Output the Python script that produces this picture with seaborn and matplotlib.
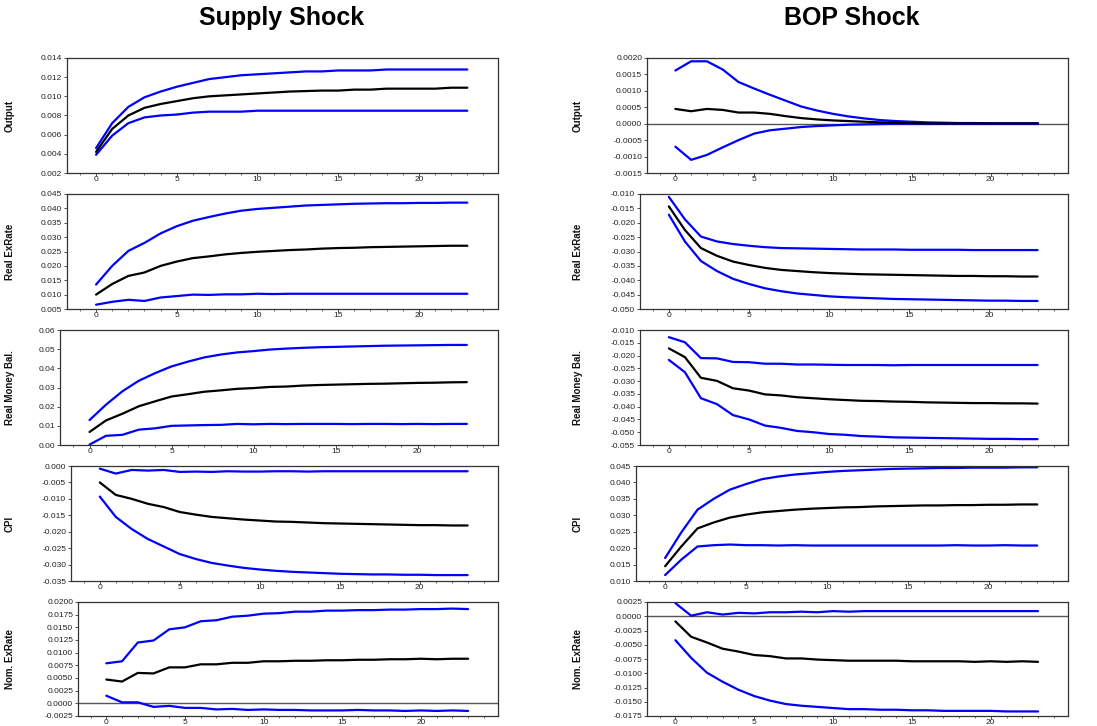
import matplotlib
matplotlib.use("Agg")
import matplotlib.pyplot as plt
import numpy as np
import seaborn as sns
from matplotlib.ticker import MultipleLocator, FuncFormatter

sns.set_style("white")
plt.rcParams['font.family'] = ['Liberation Sans', 'DejaVu Sans']
plt.rcParams['text.color'] = 'black'

# horizon steps
steps = list(range(24))

# ---- Supply shock ----
sup_output_mid = [0.0042, 0.0066, 0.0080, 0.0088, 0.0092, 0.0095, 0.0098, 0.0100, 0.0101, 0.0102, 0.0103, 0.0104,
                  0.0105, 0.01055, 0.0106, 0.0106, 0.0107, 0.0107, 0.0108, 0.0108, 0.0108, 0.0108, 0.0109, 0.0109]
sup_output_hi = [0.0046, 0.0072, 0.0089, 0.0099, 0.0105, 0.0110, 0.0114, 0.0118, 0.0120, 0.0122, 0.0123, 0.0124,
                 0.0125, 0.0126, 0.0126, 0.0127, 0.0127, 0.0127, 0.0128, 0.0128, 0.0128, 0.0128, 0.0128, 0.0128]
sup_output_lo = [0.0039, 0.0059, 0.0072, 0.0078, 0.0080, 0.0081, 0.0083, 0.0084, 0.0084, 0.0084, 0.0085, 0.0085,
                 0.0085, 0.0085, 0.0085, 0.0085, 0.0085, 0.0085, 0.0085, 0.0085, 0.0085, 0.0085, 0.0085, 0.0085]

sup_rer_hi = [0.0135, 0.0200, 0.0252, 0.0280, 0.0313, 0.0338, 0.0357, 0.0370, 0.0382, 0.0392, 0.0398, 0.0402,
              0.0406, 0.0410, 0.0412, 0.0414, 0.0416, 0.0417, 0.0418, 0.0418, 0.0419, 0.0419, 0.0420, 0.0420]
sup_rer_mid = [0.0100, 0.0137, 0.0165, 0.0177, 0.0200, 0.0215, 0.0227, 0.0233, 0.0240, 0.0245, 0.0249, 0.0252,
               0.0255, 0.0257, 0.0260, 0.0262, 0.0263, 0.0265, 0.0266, 0.0267, 0.0268, 0.0269, 0.0270, 0.0270]
sup_rer_lo = [0.0065, 0.0075, 0.0082, 0.0078, 0.0090, 0.0095, 0.0100, 0.0099, 0.0101, 0.0101, 0.0103, 0.0102,
              0.0103, 0.0103, 0.0103, 0.0103, 0.0103, 0.0103, 0.0103, 0.0103, 0.0103, 0.0103, 0.0103, 0.0103]

sup_rmb_hi = [0.013, 0.021, 0.028, 0.0335, 0.0375, 0.041, 0.0435, 0.0457, 0.0472, 0.0483, 0.049, 0.0498,
              0.0503, 0.0507, 0.051, 0.0512, 0.0514, 0.0516, 0.0518, 0.0519, 0.052, 0.0521, 0.0522, 0.0522]
sup_rmb_mid = [0.0068, 0.0128, 0.0163, 0.0202, 0.0228, 0.0253, 0.0265, 0.0278, 0.0285, 0.0293, 0.0297, 0.0303,
               0.0305, 0.031, 0.0313, 0.0315, 0.0317, 0.0319, 0.032, 0.0322, 0.0324, 0.0325, 0.0327, 0.0328]
sup_rmb_lo = [0.0002, 0.0048, 0.0053, 0.0080, 0.0087, 0.0100, 0.0102, 0.0104, 0.0105, 0.0110, 0.0108, 0.0110,
              0.0109, 0.0110, 0.0110, 0.0110, 0.0109, 0.0110, 0.0110, 0.0109, 0.0110, 0.0109, 0.0110, 0.0110]

sup_cpi_hi = [-0.0008, -0.0023, -0.0012, -0.0014, -0.0012, -0.0018, -0.0017, -0.0018, -0.0016, -0.0017, -0.0017, -0.0016,
              -0.0016, -0.0017, -0.0016, -0.0016, -0.0016, -0.0016, -0.0016, -0.0016, -0.0016, -0.0016, -0.0016, -0.0016]
sup_cpi_mid = [-0.0050, -0.0088, -0.0100, -0.0115, -0.0125, -0.0140, -0.0148, -0.0155, -0.0159, -0.0163, -0.0166, -0.0169,
               -0.0170, -0.0172, -0.0174, -0.0175, -0.0176, -0.0177, -0.0178, -0.0179, -0.0180, -0.0180, -0.0181, -0.0181]
sup_cpi_lo = [-0.0093, -0.0155, -0.0192, -0.0222, -0.0245, -0.0268, -0.0283, -0.0295, -0.0303, -0.0310, -0.0315, -0.0319,
              -0.0322, -0.0324, -0.0326, -0.0328, -0.0329, -0.0330, -0.0330, -0.0331, -0.0331, -0.0332, -0.0332, -0.0332]

sup_ner_hi = [0.0079, 0.0083, 0.0120, 0.0124, 0.0146, 0.0150, 0.0162, 0.0164, 0.0171, 0.0173, 0.0177, 0.0178,
              0.0181, 0.0181, 0.0183, 0.0183, 0.0184, 0.0184, 0.0185, 0.0185, 0.0186, 0.0186, 0.0187, 0.0186]
sup_ner_mid = [0.0047, 0.0043, 0.0060, 0.0059, 0.0071, 0.0071, 0.0077, 0.0077, 0.0080, 0.0080, 0.0083, 0.0083,
               0.0084, 0.0084, 0.0085, 0.0085, 0.0086, 0.0086, 0.0087, 0.0087, 0.0088, 0.0087, 0.0088, 0.0088]
sup_ner_lo = [0.0015, 0.0002, 0.0002, -0.0007, -0.0005, -0.0009, -0.0009, -0.0012, -0.0011, -0.0013, -0.0012, -0.0013,
              -0.0013, -0.0014, -0.0014, -0.0014, -0.0013, -0.0014, -0.0014, -0.0015, -0.0014, -0.0015, -0.0014, -0.0015]

# ---- BOP shock ----
bop_output_hi = [0.00162, 0.0019, 0.0019, 0.00165, 0.00127, 0.00107, 0.00088, 0.0007, 0.00052, 0.0004, 0.0003, 0.00022,
                 0.00016, 0.00011, 0.00008, 0.00006, 0.00004, 0.00003, 0.00002, 0.00002, 0.00001, 0.00001, 0.00001, 0.00001]
bop_output_mid = [0.00045, 0.00038, 0.00045, 0.00042, 0.00034, 0.00034, 0.0003, 0.00023, 0.00017, 0.00013, 0.0001, 0.00008,
                  0.00006, 0.00004, 0.00003, 0.00002, 0.00001, 0.00001, 0.00001, 0.00001, 0.00001, 0.00001, 0.00001, 0.00001]
bop_output_lo = [-0.0007, -0.0011, -0.00095, -0.00072, -0.0005, -0.0003, -0.0002, -0.00015, -0.0001, -0.00007, -0.00005, -0.00003,
                 -0.00002, -0.00001, 0.0, 0.0, 0.0, 0.0, 0.0, 0.0, 0.0, 0.0, 0.0, 0.0]

bop_rer_hi = [-0.0110, -0.0188, -0.0248, -0.0265, -0.0274, -0.0280, -0.0285, -0.0288, -0.0289, -0.0290, -0.0291, -0.0292,
              -0.0293, -0.0293, -0.0293, -0.0294, -0.0294, -0.0294, -0.0294, -0.0295, -0.0295, -0.0295, -0.0295, -0.0295]
bop_rer_mid = [-0.0143, -0.0225, -0.0288, -0.0315, -0.0335, -0.0347, -0.0357, -0.0364, -0.0368, -0.0372, -0.0375, -0.0377,
               -0.0379, -0.0380, -0.0381, -0.0382, -0.0383, -0.0384, -0.0385, -0.0385, -0.0386, -0.0386, -0.0387, -0.0387]
bop_rer_lo = [-0.0172, -0.0265, -0.0333, -0.0368, -0.0395, -0.0413, -0.0428, -0.0438, -0.0446, -0.0451, -0.0456, -0.0459,
              -0.0461, -0.0463, -0.0465, -0.0466, -0.0467, -0.0468, -0.0469, -0.0470, -0.0471, -0.0471, -0.0472, -0.0472]

bop_rmb_hi = [-0.0128, -0.0148, -0.0210, -0.0211, -0.0225, -0.0226, -0.0232, -0.0232, -0.0235, -0.0235, -0.0236, -0.0237,
              -0.0237, -0.0237, -0.0238, -0.0237, -0.0237, -0.0237, -0.0237, -0.0237, -0.0237, -0.0237, -0.0237, -0.0237]
bop_rmb_mid = [-0.0172, -0.0206, -0.0287, -0.0299, -0.0328, -0.0337, -0.0352, -0.0356, -0.0363, -0.0367, -0.0371, -0.0374,
               -0.0377, -0.0378, -0.0380, -0.0381, -0.0383, -0.0384, -0.0385, -0.0386, -0.0386, -0.0387, -0.0387, -0.0388]
bop_rmb_lo = [-0.0217, -0.0265, -0.0367, -0.0390, -0.0433, -0.0450, -0.0474, -0.0483, -0.0495, -0.0500, -0.0507, -0.0510,
              -0.0515, -0.0517, -0.0520, -0.0521, -0.0522, -0.0523, -0.0524, -0.0525, -0.0526, -0.0526, -0.0527, -0.0527]

bop_cpi_hi = [0.0170, 0.0248, 0.0317, 0.0350, 0.0378, 0.0395, 0.0410, 0.0418, 0.0424, 0.0428, 0.0432, 0.0435,
              0.0437, 0.0439, 0.0441, 0.0442, 0.0443, 0.0444, 0.0444, 0.0445, 0.0445, 0.0445, 0.0446, 0.0446]
bop_cpi_mid = [0.0145, 0.0205, 0.0260, 0.0278, 0.0293, 0.0302, 0.0309, 0.0313, 0.0317, 0.0320, 0.0322, 0.0324,
               0.0325, 0.0327, 0.0328, 0.0329, 0.0330, 0.0330, 0.0331, 0.0331, 0.0332, 0.0332, 0.0333, 0.0333]
bop_cpi_lo = [0.0118, 0.0165, 0.0205, 0.0209, 0.0211, 0.0209, 0.0209, 0.0208, 0.0209, 0.0208, 0.0208, 0.0208,
              0.0208, 0.0208, 0.0208, 0.0208, 0.0208, 0.0208, 0.0209, 0.0208, 0.0208, 0.0209, 0.0208, 0.0208]

bop_ner_hi = [0.0023, 0.0001, 0.0007, 0.0003, 0.0006, 0.0005, 0.0007, 0.0007, 0.0008, 0.0007, 0.0009, 0.0008,
              0.0009, 0.0009, 0.0009, 0.0009, 0.0009, 0.0009, 0.0009, 0.0009, 0.0009, 0.0009, 0.0009, 0.0009]
bop_ner_mid = [-0.0009, -0.0036, -0.0046, -0.0057, -0.0062, -0.0068, -0.0070, -0.0074, -0.0074, -0.0076, -0.0077, -0.0078,
               -0.0078, -0.0078, -0.0078, -0.0079, -0.0079, -0.0079, -0.0079, -0.0080, -0.0079, -0.0080, -0.0079, -0.0080]
bop_ner_lo = [-0.0042, -0.0073, -0.0099, -0.0115, -0.0129, -0.0140, -0.0148, -0.0154, -0.0157, -0.0159, -0.0161, -0.0163,
              -0.0163, -0.0164, -0.0164, -0.0165, -0.0165, -0.0166, -0.0166, -0.0166, -0.0166, -0.0167, -0.0167, -0.0167]

row_labels = ['Output', 'Real ExRate', 'Real Money Bal.', 'CPI', 'Nom. ExRate']

# panel specs: (hi, mid, lo, ymin, ymax, ystep, decimals)
left_panels = [
    (sup_output_hi, sup_output_mid, sup_output_lo, 0.002, 0.014, 0.002, 3),
    (sup_rer_hi, sup_rer_mid, sup_rer_lo, 0.005, 0.045, 0.005, 3),
    (sup_rmb_hi, sup_rmb_mid, sup_rmb_lo, 0.0, 0.06, 0.01, 2),
    (sup_cpi_hi, sup_cpi_mid, sup_cpi_lo, -0.035, 0.0, 0.005, 3),
    (sup_ner_hi, sup_ner_mid, sup_ner_lo, -0.0025, 0.02, 0.0025, 4),
]
right_panels = [
    (bop_output_hi, bop_output_mid, bop_output_lo, -0.0015, 0.002, 0.0005, 4),
    (bop_rer_hi, bop_rer_mid, bop_rer_lo, -0.05, -0.01, 0.005, 3),
    (bop_rmb_hi, bop_rmb_mid, bop_rmb_lo, -0.055, -0.01, 0.005, 3),
    (bop_cpi_hi, bop_cpi_mid, bop_cpi_lo, 0.01, 0.045, 0.005, 3),
    (bop_ner_hi, bop_ner_mid, bop_ner_lo, -0.0175, 0.0025, 0.0025, 4),
]

W, H = 1097, 726
fig = plt.figure(figsize=(W / 100, H / 100), dpi=100)

tops = [58, 194, 330, 466, 602]
bots = [173, 309, 445, 581, 716]
left_x0 = [67, 67, 60, 71, 78]
right_x0 = [647, 640, 640, 636, 647]
col_specs = [(left_panels, left_x0, 498, 15), (right_panels, right_x0, 1068, 583)]

spine_col = '#333333'

for panels, x0s, x1, lab_x in col_specs:
    for i, (hi, mid, lo, ymin, ymax, ystep, dec) in enumerate(panels):
        ax = fig.add_axes([x0s[i] / W, 1 - bots[i] / H, (x1 - x0s[i]) / W, (bots[i] - tops[i]) / H])
        if ymin < 0 < ymax:
            ax.axhline(0, color='#555555', lw=1.0, zorder=1)
        sns.lineplot(x=steps, y=hi, ax=ax, color='#0000ff', lw=1.6)
        sns.lineplot(x=steps, y=lo, ax=ax, color='#0000ff', lw=1.6)
        sns.lineplot(x=steps, y=mid, ax=ax, color='black', lw=1.6)
        ax.set_xlim(-1.8, 24.9)
        ax.set_ylim(ymin, ymax)
        ax.set_yticks(np.round(np.arange(ymin, ymax + ystep / 2, ystep), 6))
        ax.yaxis.set_major_formatter(FuncFormatter(lambda v, _, d=dec: f"{round(v, 6) + 0.0:.{d}f}"))
        ax.xaxis.set_major_locator(MultipleLocator(5))
        ax.xaxis.set_minor_locator(MultipleLocator(1))
        ax.tick_params(axis='x', which='major', direction='out', length=2, width=0.6,
                       labelsize=6, pad=0.5, colors=spine_col, labelcolor='#222222')
        ax.tick_params(axis='x', which='minor', direction='out', length=1.5, width=0.5, colors=spine_col)
        ax.tick_params(axis='y', which='major', direction='out', length=2, width=0.6,
                       labelsize=6, pad=1.5, colors=spine_col, labelcolor='#222222')
        ax.tick_params(bottom=True, left=True, which='both')
        for s in ax.spines.values():
            s.set_color(spine_col)
            s.set_linewidth(0.9)
        ax.set_xlabel('')
        ax.set_ylabel(row_labels[i], fontsize=7, fontweight='bold', color='#111111')
        ax.yaxis.set_label_coords(lab_x / W, 1 - (tops[i] + bots[i]) / 2 / H, transform=fig.transFigure)

fig.text(282 / W, 1 - 18 / H, 'Supply Shock', ha='center', va='center', fontsize=18, fontweight='bold')
fig.text(852 / W, 1 - 18 / H, 'BOP Shock', ha='center', va='center', fontsize=18, fontweight='bold')

fig.savefig('out.png', dpi=100)
